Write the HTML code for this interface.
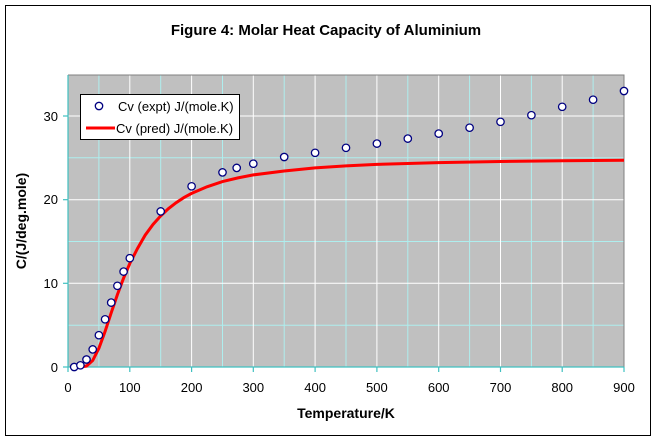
<!DOCTYPE html>
<html><head><meta charset="utf-8"><style>
html,body{margin:0;padding:0;background:#fff;}
svg{display:block;font-family:"Liberation Sans",Arial,sans-serif;}
</style></head><body>
<svg width="656" height="440" viewBox="0 0 656 440" xmlns="http://www.w3.org/2000/svg">
<rect x="0" y="0" width="656" height="440" fill="#fff"/>
<rect x="5.5" y="5.5" width="645" height="430" fill="#fff" stroke="#000" stroke-width="1"/>
<text x="326" y="35" text-anchor="middle" font-size="15" font-weight="bold">Figure 4: Molar Heat Capacity of Aluminium</text>
<rect x="68" y="75" width="556" height="292" fill="#c0c0c0"/>
<g stroke="#aeeeee" stroke-width="1">
<line x1="98.9" y1="75" x2="98.9" y2="367"/><line x1="160.7" y1="75" x2="160.7" y2="367"/><line x1="222.5" y1="75" x2="222.5" y2="367"/><line x1="284.2" y1="75" x2="284.2" y2="367"/><line x1="346" y1="75" x2="346" y2="367"/><line x1="407.8" y1="75" x2="407.8" y2="367"/><line x1="469.6" y1="75" x2="469.6" y2="367"/><line x1="531.4" y1="75" x2="531.4" y2="367"/><line x1="593.1" y1="75" x2="593.1" y2="367"/>
<line x1="68" y1="325.2" x2="624" y2="325.2"/><line x1="68" y1="241.5" x2="624" y2="241.5"/><line x1="68" y1="157.8" x2="624" y2="157.8"/>
</g>
<g stroke="#fff" stroke-width="1">
<line x1="129.8" y1="75" x2="129.8" y2="367"/><line x1="191.6" y1="75" x2="191.6" y2="367"/><line x1="253.3" y1="75" x2="253.3" y2="367"/><line x1="315.1" y1="75" x2="315.1" y2="367"/><line x1="376.9" y1="75" x2="376.9" y2="367"/><line x1="438.7" y1="75" x2="438.7" y2="367"/><line x1="500.5" y1="75" x2="500.5" y2="367"/><line x1="562.2" y1="75" x2="562.2" y2="367"/>
<line x1="68" y1="283.3" x2="624" y2="283.3"/><line x1="68" y1="199.7" x2="624" y2="199.7"/><line x1="68" y1="116" x2="624" y2="116"/>
</g>
<polyline points="68,75 624,75 624,367" fill="none" stroke="#808080" stroke-width="1"/>
<g stroke="#40c0c0" stroke-width="1.2">
<line x1="68" y1="75" x2="68" y2="367"/><line x1="68" y1="367" x2="624" y2="367"/>
<line x1="63" y1="367" x2="68" y2="367"/><line x1="63" y1="283.3" x2="68" y2="283.3"/><line x1="63" y1="199.7" x2="68" y2="199.7"/><line x1="63" y1="116" x2="68" y2="116"/>
<line x1="68" y1="367" x2="68" y2="372"/><line x1="129.8" y1="367" x2="129.8" y2="372"/><line x1="191.6" y1="367" x2="191.6" y2="372"/><line x1="253.3" y1="367" x2="253.3" y2="372"/><line x1="315.1" y1="367" x2="315.1" y2="372"/><line x1="376.9" y1="367" x2="376.9" y2="372"/><line x1="438.7" y1="367" x2="438.7" y2="372"/><line x1="500.5" y1="367" x2="500.5" y2="372"/><line x1="562.2" y1="367" x2="562.2" y2="372"/><line x1="624" y1="367" x2="624" y2="372"/>
</g>
<g font-size="13" text-anchor="end">
<text x="58" y="372">0</text><text x="58" y="288">10</text><text x="58" y="204">20</text><text x="58" y="121">30</text>
</g>
<g font-size="13" text-anchor="middle">
<text x="68" y="392">0</text><text x="129.8" y="392">100</text><text x="191.6" y="392">200</text><text x="253.3" y="392">300</text><text x="315.1" y="392">400</text><text x="376.9" y="392">500</text><text x="438.7" y="392">600</text><text x="500.5" y="392">700</text><text x="562.2" y="392">800</text><text x="624" y="392">900</text>
</g>
<text x="346" y="418" text-anchor="middle" font-size="14" font-weight="bold">Temperature/K</text>
<text transform="translate(26,221) rotate(-90)" text-anchor="middle" font-size="14" font-weight="bold">C/(J/deg.mole)</text>
<polyline fill="none" stroke="#ff0000" stroke-width="3" points="76,367 80.4,367 86.5,366.1 92.7,360.5 98.9,348.3 105.1,331.4 111.2,312.8 117.4,294.6 123.6,278.1 129.8,263.5 137.5,248.5 145.2,235.1 153,224.5 160.7,215.9 168.4,208.7 176.1,202.7 183.9,197.6 191.6,193.4 207,186.8 222.5,181.6 238,177.9 253.3,174.9 284.2,171 315.1,167.9 346,165.9 376.9,164.4 438.7,162.6 500.5,161.5 562.2,160.8 624,160.3"/>
<g fill="#fff" stroke="#000080" stroke-width="1.3">
<circle cx="74.2" cy="367" r="3.7"/><circle cx="80.4" cy="365.3" r="3.7"/><circle cx="86.5" cy="359.5" r="3.7"/><circle cx="92.7" cy="349.4" r="3.7"/><circle cx="98.9" cy="335.2" r="3.7"/><circle cx="105.1" cy="319.3" r="3.7"/><circle cx="111.2" cy="302.6" r="3.7"/><circle cx="117.4" cy="285.8" r="3.7"/><circle cx="123.6" cy="271.6" r="3.7"/><circle cx="129.8" cy="258.2" r="3.7"/><circle cx="160.7" cy="211.4" r="3.7"/><circle cx="191.6" cy="186.3" r="3.7"/><circle cx="222.5" cy="172.4" r="3.7"/><circle cx="236.7" cy="167.9" r="3.7"/><circle cx="253.3" cy="163.7" r="3.7"/><circle cx="284.2" cy="157" r="3.7"/><circle cx="315.1" cy="152.8" r="3.7"/><circle cx="346" cy="147.8" r="3.7"/><circle cx="376.9" cy="143.6" r="3.7"/><circle cx="407.8" cy="138.6" r="3.7"/><circle cx="438.7" cy="133.6" r="3.7"/><circle cx="469.6" cy="127.7" r="3.7"/><circle cx="500.5" cy="121.8" r="3.7"/><circle cx="531.4" cy="115.2" r="3.7"/><circle cx="562.2" cy="106.8" r="3.7"/><circle cx="593.1" cy="99.7" r="3.7"/><circle cx="624" cy="91" r="3.7"/>
</g>
<rect x="80.5" y="94.5" width="159" height="45" fill="#fff" stroke="#000" stroke-width="1"/>
<circle cx="99" cy="106" r="3.7" fill="#fff" stroke="#000080" stroke-width="1.3"/>
<line x1="86" y1="128" x2="115" y2="128" stroke="#ff0000" stroke-width="3"/>
<text x="118" y="111" font-size="13">Cv (expt) J/(mole.K)</text>
<text x="116" y="133" font-size="13">Cv (pred) J/(mole.K)</text>
</svg>
</body></html>
